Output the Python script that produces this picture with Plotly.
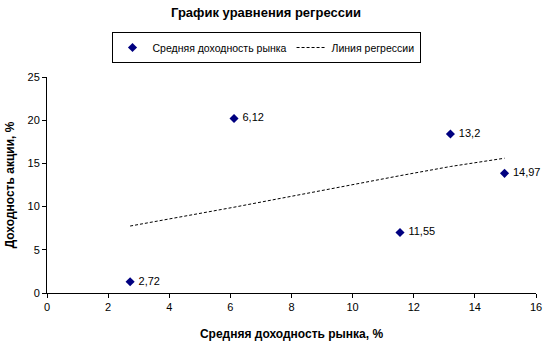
import plotly.graph_objects as go

# Market average return (x) and stock return (y), %
market_return = [2.72, 6.12, 11.55, 13.2, 14.97]
stock_return = [1.3, 20.2, 7.0, 18.4, 13.85]
# Fitted values of the regression line at the same x
regression_fit = [7.75, 9.93, 13.58, 14.64, 15.6]

point_labels = [" " + str(v).replace(".", ",") for v in market_return]

FONT = "Liberation Sans, Arial, sans-serif"

fig = go.Figure()
fig.add_trace(go.Scatter(
    x=market_return, y=stock_return,
    mode="markers+text",
    name="Средняя доходность рынка",
    marker=dict(symbol="diamond", size=7, color="#000080"),
    text=point_labels, textposition="middle right",
    textfont=dict(family=FONT, size=11, color="black"),
    cliponaxis=False,
))
fig.add_trace(go.Scatter(
    x=market_return, y=regression_fit,
    mode="lines",
    name="Линия регрессии",
    line=dict(color="black", width=1, dash="3px,2px"),
))

fig.update_layout(
    width=548, height=345,
    margin=dict(l=47, r=12, t=77, b=52, autoexpand=False),
    paper_bgcolor="white", plot_bgcolor="white",
    font=dict(family=FONT, size=11, color="black"),
    title=dict(text="<b>График уравнения регрессии</b>",
               x=266 / 548, xanchor="center", xref="container",
               y=1 - 12 / 345, yanchor="middle", yref="container",
               font=dict(family=FONT, size=13, color="black")),
    legend=dict(orientation="h", xref="container", yref="container",
                x=266 / 548, xanchor="center", y=1 - 32 / 345, yanchor="top",
                bordercolor="black", borderwidth=1, bgcolor="white",
                font=dict(family=FONT, size=10.5, color="black"),
                itemwidth=30, tracegroupgap=0),
    showlegend=True,
)
fig.update_xaxes(range=[0, 16], dtick=2, tick0=0, showgrid=False, zeroline=False,
                 showline=True, linecolor="black", linewidth=1,
                 ticks="outside", ticklen=4, tickcolor="black", automargin=False,
                 title=dict(text="<b>Средняя доходность рынка, %</b>", standoff=17,
                            font=dict(family=FONT, size=12)))
fig.update_yaxes(range=[0, 25], dtick=5, tick0=0, showgrid=False, zeroline=False,
                 showline=True, linecolor="black", linewidth=1,
                 ticks="outside", ticklen=4, tickcolor="black", automargin=False,
                 title=dict(text="<b>Доходность акции, %</b>", standoff=10,
                            font=dict(family=FONT, size=12)))

fig.write_html("out.html")
